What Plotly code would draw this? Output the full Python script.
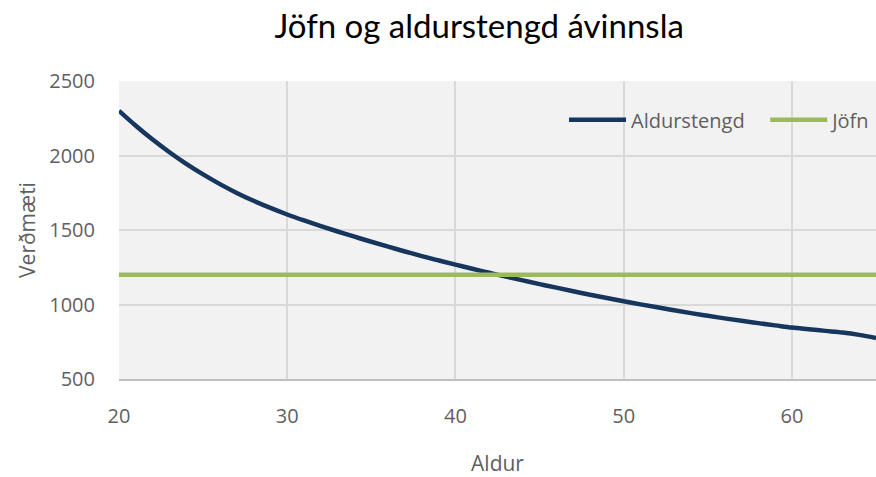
import plotly.graph_objects as go

ages = list(range(20, 66))
aldurstengd = [2300, 2200, 2107, 2022, 1944, 1873, 1808, 1749, 1696, 1648,
               1604, 1564, 1526, 1490, 1455, 1421, 1388, 1356, 1325, 1296,
               1268, 1240, 1213, 1187, 1162, 1137, 1113, 1089, 1066, 1044,
               1022, 1001, 981, 961, 942, 924, 907, 891, 875, 860,
               845, 834, 823, 812, 796, 775]
jofn = [1200] * len(ages)

x_ticks = [20, 30, 40, 50, 60]
y_ticks = [500, 1000, 1500, 2000, 2500]

grey = "#5f5f5f"
font_fam = "Open Sans, Lato, sans-serif"

fig = go.Figure()
fig.add_trace(go.Scatter(x=ages, y=aldurstengd, mode="lines",
                         name="Aldurstengd\u00a0\u00a0\u00a0",
                         line=dict(color="#17365D", width=4.5, shape="spline")))
fig.add_trace(go.Scatter(x=ages, y=jofn, mode="lines", name="Jöfn",
                         line=dict(color="#9BBB59", width=4.5)))

fig.update_layout(
    width=876, height=477,
    margin=dict(l=119, r=0, t=81, b=98),
    paper_bgcolor="white",
    plot_bgcolor="#F2F2F2",
    title=dict(text="Jöfn og aldurstengd ávinnsla", x=0.547, xanchor="center",
               y=0.945, yanchor="middle",
               font=dict(family="Lato, sans-serif", size=33, color="black")),
    font=dict(family=font_fam, color=grey, size=20),
    legend=dict(orientation="h", x=1.0, xanchor="right", y=0.87, yanchor="middle",
                bgcolor="rgba(0,0,0,0)", font=dict(size=20, color=grey),
                itemwidth=57),
    showlegend=True,
)
fig.update_xaxes(range=[20, 65], tickvals=x_ticks, showgrid=True, gridcolor="#D9D9D9",
                 gridwidth=1.5, zeroline=False, showline=True, linecolor="#BFBFBF",
                 linewidth=2, ticks="outside", ticklen=18, tickcolor="rgba(0,0,0,0)",
                 tickfont=dict(size=20, color=grey),
                 title=dict(text="Aldur", font=dict(size=21, color=grey), standoff=32))
fig.update_yaxes(range=[500, 2500], tickvals=y_ticks, showgrid=True, gridcolor="#D9D9D9",
                 gridwidth=1.5, zeroline=False, showline=False,
                 ticks="outside", ticklen=19, tickcolor="rgba(0,0,0,0)",
                 tickfont=dict(size=20, color=grey),
                 title=dict(text="Verðmæti", font=dict(size=21, color=grey), standoff=7))

fig.write_html("out.html", config={"displayModeBar": False},
               post_script="document.body.style.margin='0';document.body.style.padding='0';")
